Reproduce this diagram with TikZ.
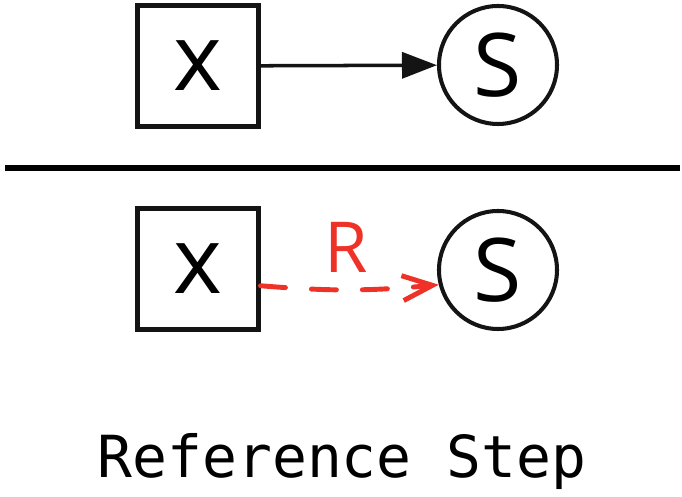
\documentclass[tikz,border=0pt]{standalone}
\usepackage{fontspec}
\setmainfont{Open Sans}
\newfontfamily\monofont{DejaVu Sans Mono}
\usetikzlibrary{arrows.meta,positioning}
\definecolor{inkblack}{RGB}{20,20,20}
\definecolor{refred}{RGB}{238,50,40}
\tikzset{
  varbox/.style={draw=inkblack,line width=2.3pt,minimum width=2.42cm,minimum height=2.42cm,
    inner sep=0pt,font=\fontsize{53}{56}\selectfont},
  statenode/.style={draw=inkblack,circle,line width=2.3pt,minimum size=2.36cm,inner sep=0pt,
    font=\fontsize{50}{54}\selectfont},
  plainflow/.style={-{Triangle[length=0.7cm,width=0.52cm]},line width=2pt,draw=inkblack},
  refflow/.style={-{Straight Barb[length=0.6cm,width=0.5cm]},line width=2.8pt,draw=refred,
    dash pattern=on 0.5cm off 0.52cm,line cap=round},
  divider/.style={line width=3.6pt,draw=black}
}

\begin{document}
\begin{tikzpicture}
  \useasboundingbox (0,0) rectangle (13.64,-9.94);
  \node[varbox] (xt) at (3.96,-1.32) {x};
  \node[statenode] (st) at (9.96,-1.30) {S};
  \coordinate (ruleL) at (0.1,-3.36);
  \coordinate (ruleR) at (13.6,-3.36);
  \node[varbox] (xb) at (3.96,-5.38) {x};
  \node[statenode] (sb) at (9.96,-5.40) {S};
  \node[font=\fontsize{40}{44}\selectfont,text=refred] (rl) at (6.92,-4.94) {R};
  \node[font=\monofont\fontsize{33}{36}\selectfont,anchor=base] (title) at (6.84,-9.56) {Reference Step};

  \draw[plainflow] (xt) -- (st);
  \draw[divider] (ruleL) -- (ruleR);
  \draw[refflow] (xb.-15) to[bend right=5] (sb.194);
\end{tikzpicture}
\end{document}
